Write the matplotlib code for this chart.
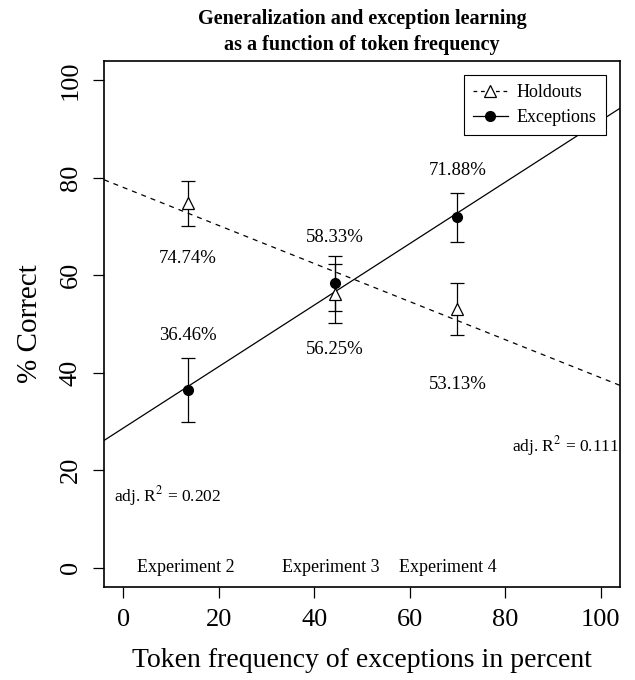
import numpy as np
import matplotlib.pyplot as plt

plt.rcParams['font.family'] = ['Liberation Serif', 'DejaVu Serif']
plt.rcParams['mathtext.fontset'] = 'stix'

# data
experiments = ['Experiment 2', 'Experiment 3', 'Experiment 4']
token_freq = [13.6, 44.4, 70.0]
exceptions = [36.46, 58.33, 71.88]
exceptions_err = [6.5, 5.6, 5.0]
holdouts = [74.74, 56.25, 53.13]
holdouts_err = [4.7, 6.0, 5.3]
r2_exceptions = 0.202
r2_holdouts = 0.111

fig = plt.figure(figsize=(6.35, 6.8), dpi=100)
ax = fig.add_axes([0.164, 0.1365, 0.812, 0.774])

# regression lines over the full plot width
xs = np.array([-4, 104])
b_exc = np.polyfit(token_freq, exceptions, 1)
b_hold = np.polyfit(token_freq, holdouts, 1)
ax.plot(xs, np.polyval(b_exc, xs), color='black', lw=0.9)
ax.plot(xs, np.polyval(b_hold, xs), color='black', lw=0.9, dashes=(4, 4))

# points with error bars
ax.errorbar(token_freq, holdouts, yerr=holdouts_err, fmt='^', mfc='white', mec='black',
            ms=8, mew=0.9, ecolor='black', elinewidth=0.9, capsize=5, capthick=0.9)
ax.errorbar(token_freq, exceptions, yerr=exceptions_err, fmt='o', color='black',
            ms=7, elinewidth=0.9, capsize=5, capthick=0.9)

# legend proxies
h1, = ax.plot([], [], color='black', lw=0.9, dashes=(3, 3), marker='^', mfc='white',
              mec='black', ms=8, mew=0.9, label='Holdouts')
h2, = ax.plot([], [], color='black', lw=0.9, marker='o', ms=7, label='Exceptions')
leg = ax.legend(handles=[h1, h2], loc='upper right', bbox_to_anchor=(0.99, 0.99),
                fontsize=13, fancybox=False, edgecolor='black', framealpha=1,
                handlelength=1.9, handletextpad=0.5, borderpad=0.5, labelspacing=0.45)
leg.get_frame().set_linewidth(0.8)

# value labels
fs = 13.5
ax.text(token_freq[0], holdouts[0] - 11.2, '74.74%', ha='center', va='center', fontsize=fs)
ax.text(token_freq[0], exceptions[0] + 11.2, '36.46%', ha='center', va='center', fontsize=fs)
ax.text(token_freq[1], exceptions[1] + 9.5, '58.33%', ha='center', va='center', fontsize=fs)
ax.text(token_freq[1], holdouts[1] - 11.4, '56.25%', ha='center', va='center', fontsize=fs)
ax.text(token_freq[2], exceptions[2] + 9.7, '71.88%', ha='center', va='center', fontsize=fs)
ax.text(token_freq[2], holdouts[2] - 15.6, '53.13%', ha='center', va='center', fontsize=fs)

ax.text(9.3, 14.7, 'adj. R$^2$ = %.3f' % r2_exceptions, ha='center', va='center', fontsize=12.5)
ax.text(92.7, 24.9, 'adj. R$^2$ = %.3f' % r2_holdouts, ha='center', va='center', fontsize=12.5)

# experiment names along the bottom
exp_x = [token_freq[0] - 0.5, token_freq[1] - 1.0, token_freq[2] - 2.0]
for name, xp in zip(experiments, exp_x):
    ax.text(xp, 0, name, ha='center', va='center', fontsize=13)

ax.set_xlim(-4, 104)
ax.set_ylim(-4, 104)
ax.set_xticks([0, 20, 40, 60, 80, 100])
ax.set_yticks([0, 20, 40, 60, 80, 100])
ax.tick_params(direction='out', length=8, width=0.9, labelsize=19, pad=8)
for lab in ax.get_yticklabels():
    lab.set_rotation(90)
    lab.set_va('center')
for s in ax.spines.values():
    s.set_linewidth(1.2)

ax.set_xlabel('Token frequency of exceptions in percent', fontsize=20, labelpad=12)
ax.set_ylabel('% Correct', fontsize=21, labelpad=12)
ax.set_title('Generalization and exception learning\nas a function of token frequency',
             fontsize=14.5, fontweight='bold', linespacing=1.35, pad=8)

fig.savefig('out.png', dpi=100)
